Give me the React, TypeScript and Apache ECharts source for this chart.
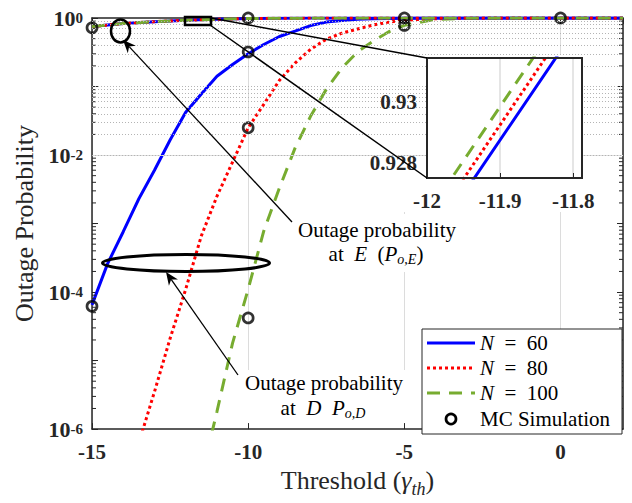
import React, { useEffect, useRef } from 'react';
import * as echarts from 'echarts';

const FONT = 'Liberation Serif, serif';
const AX = '#262626';
const BLUE = '#0000ff';
const RED = '#ff0000';
const GREEN = '#77ac30';

// Outage probability at D (lower curves)
const xD = [-15, -14.5, -14, -13.5, -13, -12.5, -12, -11.5, -11, -10.5, -10, -9.5, -9, -8.5, -8, -7.5, -7, -6.5, -6, -5.5, -5, -4, -3, -2, -1, 0, 1, 2];
const pD60 = [6.5e-5, 2.6e-4, 7.6e-4, 2.3e-3, 6.0e-3, 0.0166, 0.042, 0.078, 0.141, 0.21, 0.30, 0.41, 0.537, 0.645, 0.776, 0.871, 0.923, 0.955, 0.973, 0.984, 0.991, 0.997, 0.999, 1, 1, 1, 1, 1];
const pD80 = [null, null, 1.1e-7, 6.3e-7, 3.5e-6, 2.1e-5, 1.1e-4, 6.6e-4, 2.5e-3, 7.9e-3, 0.025, 0.055, 0.123, 0.22, 0.35, 0.49, 0.60, 0.69, 0.79, 0.87, 0.93, 0.977, 0.993, 0.998, 0.9995, 1, 1, 1];
const pD100 = [null, null, null, null, null, null, null, 2e-7, 1.8e-6, 1.8e-5, 1.1e-4, 7.8e-4, 3.3e-3, 0.0126, 0.037, 0.091, 0.186, 0.32, 0.46, 0.63, 0.78, 0.955, 0.985, 0.995, 0.998, 0.9995, 1, 1];

// Outage probability at E (upper curves)
const xE = [-15, -14, -13, -12, -11.8, -11, -10, -9, -8, -7, -6, -5, -4, -3, -2, -1, 0, 1, 2];
const pE60 = [0.75, 0.83, 0.885, 0.9252, 0.9323, 0.958, 0.98, 0.992, 0.997, 0.999, 1, 1, 1, 1, 1, 1, 1, 1, 1];
const pE80 = [0.75, 0.83, 0.885, 0.9257, 0.9328, 0.958, 0.98, 0.992, 0.997, 0.999, 1, 1, 1, 1, 1, 1, 1, 1, 1];
const pE100 = [0.752, 0.832, 0.886, 0.9263, 0.9334, 0.959, 0.981, 0.992, 0.997, 0.999, 1, 1, 1, 1, 1, 1, 1, 1, 1];

// Monte-Carlo simulation points
const mcX = [-15, -15, -10, -10, -10, -10, -5, -5, 0];
const mcY = [6.2e-5, 0.72, 1, 0.32, 0.025, 4.2e-5, 1, 0.78, 1];

const seriesNames = ['N = 60', 'N = 80', 'N = 100'];
const legendValues = ['60', '80', '100'];
const xTicksMain = { min: -15, max: 2, interval: 5 };
const yMajorGrid = [1e-4, 1e-2];
const insetYMajor = [0.928, 0.93];
const insetYMinor = [0.9285, 0.929, 0.9295, 0.9305, 0.931];

const zip = (xs: number[], ys: (number | null)[]) => xs.map((x, i) => [x, ys[i]]);

function minorLogValues() {
  const out: number[] = [];
  for (let k = -6; k < 0; k++) {
    for (let m = 2; m <= 9; m++) out.push(m * Math.pow(10, k));
    if (k % 2 !== 0) out.push(Math.pow(10, k));
  }
  return out;
}

function arrowHead(x1: number, y1: number, x2: number, y2: number, len = 13, half = 5.5, notch = 9) {
  const dx = x2 - x1, dy = y2 - y1, L = Math.hypot(dx, dy);
  const ux = dx / L, uy = dy / L, px = -uy, py = ux;
  const bx = x2 - ux * len, by = y2 - uy * len;
  return [[x2, y2], [bx + px * half, by + py * half], [x2 - ux * notch, y2 - uy * notch], [bx - px * half, by - py * half]];
}

function txt(x: number, y: number, text: string, rich: any, size = 21, z = 10) {
  return {
    type: 'text', z,
    style: {
      x, y, text, rich, fill: '#000', fontFamily: FONT, fontSize: size,
      align: 'center', verticalAlign: 'middle', textAlign: 'center', textVerticalAlign: 'middle',
    },
  };
}

export default function App() {
  const ref = useRef<HTMLDivElement>(null);
  useEffect(() => {
    if (!ref.current) return;
    const chart = echarts.init(ref.current, null, { renderer: 'svg' });
    const labelBold = { fontFamily: FONT, fontWeight: 'bold', fontSize: 21, color: AX };
    const styles = [
      { color: BLUE, width: 3, type: 'solid' },
      { color: RED, width: 3, type: [3, 3] },
      { color: GREEN, width: 3, type: [13, 9] },
    ];
    const richT = {
      r: { fontFamily: FONT, fontSize: 21, lineHeight: 24, color: '#000' },
      i: { fontFamily: FONT, fontSize: 21, lineHeight: 24, fontStyle: 'italic', color: '#000' },
      sub: { fontFamily: FONT, fontSize: 14, lineHeight: 14, padding: [10, 0, 0, 0], fontStyle: 'italic', color: '#000' },
    };
    const eArrow = arrowHead(292, 222, 123, 40);
    const dArrow = arrowHead(238, 375, 166, 272);
    const legendRows = [343, 368, 393, 419];

    const option: any = {
      animation: false,
      textStyle: { fontFamily: FONT },
      grid: [
        { left: 92, top: 18, width: 531, height: 419, show: false },
        { left: 427, top: 58, width: 155, height: 120, show: true, backgroundColor: '#fff', borderWidth: 0, z: 6 },
      ],
      xAxis: [
        {
          type: 'value', gridIndex: 0, ...xTicksMain,
          axisLine: { show: true, onZero: false, lineStyle: { color: AX, width: 1.5 } },
          axisTick: { show: true, inside: true, length: 6, lineStyle: { color: AX } },
          axisLabel: { ...labelBold, margin: 12, showMaxLabel: false, formatter: (v: number) => (v > 1 ? '' : String(v)) },
          splitLine: { show: true, lineStyle: { color: '#dcdcdc', width: 1 } },
          name: '{n|Threshold (}{g|γ}{t|th}{n|)}',
          nameLocation: 'middle', nameGap: 37,
          nameTextStyle: {
            fontFamily: FONT,
            rich: {
              n: { fontFamily: FONT, fontSize: 26, lineHeight: 28, verticalAlign: 'top', color: AX },
              g: { fontFamily: FONT, fontSize: 26, lineHeight: 28, verticalAlign: 'top', fontStyle: 'italic', color: AX },
              t: { fontFamily: FONT, fontSize: 18, lineHeight: 18, padding: [13, 0, 0, 0], verticalAlign: 'top', fontStyle: 'italic', color: AX },
            },
          },
        },
        {
          type: 'value', gridIndex: 0, position: 'top', ...xTicksMain,
          axisLine: { show: true, onZero: false, lineStyle: { color: AX, width: 1.5 } },
          axisTick: { show: true, inside: true, length: 6, lineStyle: { color: AX } },
          axisLabel: { show: false }, splitLine: { show: false },
        },
        {
          type: 'value', gridIndex: 1, min: -12, max: -11.788, interval: 0.1, z: 7,
          axisLine: { show: false },
          axisTick: { show: true, inside: true, length: 5, lineStyle: { color: AX } },
          axisLabel: { ...labelBold, margin: 12, showMaxLabel: false, formatter: (v: number) => String(Number(v.toFixed(1))) },
          splitLine: { show: true, lineStyle: { color: '#dcdcdc', width: 1.5 } },
        },
      ],
      yAxis: [
        {
          type: 'log', logBase: 10, gridIndex: 0, min: 1e-6, max: 1,
          axisLine: { show: true, onZero: false, lineStyle: { color: AX, width: 1.5 } },
          axisTick: { show: true, inside: true, length: 6, lineStyle: { color: AX } },
          splitLine: { show: false },
          axisLabel: {
            margin: 9,
            formatter: (v: number) => {
              const e = Math.round(Math.log10(v));
              if (e % 2 !== 0) return '';
              return `{b|10}{s|${e}}`;
            },
            rich: {
              b: { fontFamily: FONT, fontWeight: 'bold', fontSize: 22, lineHeight: 22, verticalAlign: 'bottom', color: AX },
              s: { fontFamily: FONT, fontWeight: 'bold', fontSize: 15, lineHeight: 15, padding: [3, 0, 12, 0], verticalAlign: 'top', color: AX },
            },
          },
          name: 'Outage Probability',
          nameLocation: 'middle', nameGap: 53,
          nameTextStyle: { fontFamily: FONT, fontSize: 26, color: AX },
        },
        {
          type: 'log', logBase: 10, gridIndex: 0, position: 'right', min: 1e-6, max: 1,
          axisLine: { show: true, onZero: false, lineStyle: { color: AX, width: 1.5 } },
          axisTick: { show: true, inside: true, length: 6, lineStyle: { color: AX } },
          axisLabel: { show: false }, splitLine: { show: false },
        },
        {
          type: 'value', gridIndex: 1, min: 0.9275, max: 0.93145, interval: 0.0005, z: 7,
          axisLine: { show: false }, axisTick: { show: false }, splitLine: { show: false },
          axisLabel: {
            ...labelBold, margin: 10,
            formatter: (v: number) => {
              const hit = insetYMajor.find((m) => Math.abs(m - v) < 1e-7);
              return hit !== undefined ? String(hit) : '';
            },
          },
        },
      ],
      series: [
        {
          type: 'line', name: 'grid', xAxisIndex: 0, yAxisIndex: 0, z: 1, silent: true,
          data: [[-20, 0.5]], symbol: 'none', lineStyle: { width: 0 },
          markLine: {
            silent: true, symbol: ['none', 'none'], label: { show: false }, animation: false,
            data: [
              ...yMajorGrid.map((v) => ({ yAxis: v, lineStyle: { color: '#dcdcdc', width: 1, type: 'solid' } })),
              ...minorLogValues().map((v) => ({ yAxis: v, lineStyle: { color: '#b4b4b4', width: 1, type: [1, 2] } })),
            ],
          },
        },
        {
          type: 'custom', name: 'minorTicks', xAxisIndex: 0, yAxisIndex: 0, z: 4, silent: true,
          data: minorLogValues().map((v) => [xTicksMain.min, v]),
          encode: { x: 0, y: 1 },
          renderItem: (_p: any, api: any) => {
            const v = api.value(1);
            const l = api.coord([xTicksMain.min, v]);
            const r = api.coord([xTicksMain.max, v]);
            const st = { stroke: AX, lineWidth: 1 };
            return {
              type: 'group',
              children: [
                { type: 'line', shape: { x1: l[0], y1: l[1], x2: l[0] + 4, y2: l[1] }, style: st },
                { type: 'line', shape: { x1: r[0] - 4, y1: r[1], x2: r[0], y2: r[1] }, style: st },
              ],
            };
          },
        },
        ...[pD60, pD80, pD100].map((d, i) => ({
          type: 'line', name: seriesNames[i], xAxisIndex: 0, yAxisIndex: 0, z: 2,
          data: zip(xD, d), symbol: 'none', lineStyle: styles[i], clip: true,
        })),
        ...[pE60, pE80, pE100].map((d, i) => ({
          type: 'line', name: seriesNames[i], xAxisIndex: 0, yAxisIndex: 0, z: 2,
          data: zip(xE, d), symbol: 'none', lineStyle: styles[i], clip: true,
        })),
        {
          type: 'scatter', name: 'MC Simulation', xAxisIndex: 0, yAxisIndex: 0, z: 3,
          data: zip(mcX, mcY), symbol: 'circle', symbolSize: 10,
          itemStyle: { color: 'rgba(0,0,0,0)', borderColor: '#000', borderWidth: 2.7 },
        },
        {
          type: 'line', name: 'insetgrid', xAxisIndex: 2, yAxisIndex: 2, z: 7, silent: true,
          data: [[-13, 0.929]], symbol: 'none', lineStyle: { width: 0 },
          markLine: {
            silent: true, symbol: ['none', 'none'], label: { show: false }, animation: false,
            data: [
              ...insetYMajor.map((v) => ({ yAxis: v, lineStyle: { color: '#dcdcdc', width: 1.5, type: 'solid' } })),
              ...insetYMinor.map((v) => ({ yAxis: v, lineStyle: { color: '#b4b4b4', width: 1.5, type: [1.5, 2.5] } })),
            ],
          },
        },
        ...[pE60, pE80, pE100].map((d, i) => ({
          type: 'line', name: seriesNames[i] + ' ', xAxisIndex: 2, yAxisIndex: 2, z: 8,
          data: zip(xE, d), symbol: 'none', lineStyle: styles[i], clip: true,
        })),
      ],
      graphic: [
        // white backgrounds
        { type: 'rect', z: 5, shape: { x: 365, y: 54, width: 223, height: 158 }, style: { fill: '#fff' } },
        { type: 'rect', z: 5, shape: { x: 293, y: 214, width: 167, height: 58 }, style: { fill: '#fff' } },
        { type: 'rect', z: 5, shape: { x: 238, y: 370, width: 167, height: 53 }, style: { fill: '#fff' } },
        // inset box border
        { type: 'rect', z: 9, shape: { x: 427, y: 58, width: 155, height: 120 }, style: { fill: 'none', stroke: AX, lineWidth: 2 } },
        // zoom rectangle and connectors
        { type: 'rect', z: 9, shape: { x: 185, y: 17, width: 26, height: 8 }, style: { fill: 'none', stroke: '#000', lineWidth: 2.5 } },
        { type: 'line', z: 9, shape: { x1: 211, y1: 18, x2: 427, y2: 58 }, style: { stroke: '#000', lineWidth: 1.5 } },
        { type: 'line', z: 9, shape: { x1: 210, y1: 25, x2: 427, y2: 178 }, style: { stroke: '#000', lineWidth: 1.5 } },
        // ellipses
        { type: 'ellipse', z: 9, shape: { cx: 120.5, cy: 31, rx: 9.5, ry: 11.5 }, style: { fill: 'none', stroke: '#000', lineWidth: 2.5 } },
        { type: 'ellipse', z: 9, shape: { cx: 186, cy: 263, rx: 83.5, ry: 8.5 }, style: { fill: 'none', stroke: '#000', lineWidth: 3 } },
        // arrows
        { type: 'line', z: 9, shape: { x1: 292, y1: 222, x2: eArrow[2][0], y2: eArrow[2][1] }, style: { stroke: '#000', lineWidth: 1.3 } },
        { type: 'polygon', z: 9, shape: { points: eArrow }, style: { fill: '#000' } },
        { type: 'line', z: 9, shape: { x1: 238, y1: 375, x2: dArrow[2][0], y2: dArrow[2][1] }, style: { stroke: '#000', lineWidth: 1.3 } },
        { type: 'polygon', z: 9, shape: { points: dArrow }, style: { fill: '#000' } },
        // annotation texts
        txt(377, 230, 'Outage probability', richT),
        txt(376, 254, '{r|at\u2002}{i|E}{r|\u2002(}{i|P}{sub|o,E}{r|)}', richT),
        txt(324, 383, 'Outage probability', richT),
        txt(323, 408, '{r|at\u2002}{i|D}{r|\u2002}{i|P}{sub|o,D}', richT),
        // legend
        { type: 'rect', z: 9, shape: { x: 422, y: 329, width: 200, height: 105 }, style: { fill: '#fff', stroke: AX, lineWidth: 1 } },
        ...styles.map((s, i) => ({
          type: 'line', z: 10, shape: { x1: 427, y1: legendRows[i], x2: 475, y2: legendRows[i] },
          style: { stroke: s.color, lineWidth: 3, lineDash: s.type === 'solid' ? null : s.type },
        })),
        { type: 'circle', z: 10, shape: { cx: 451, cy: legendRows[3], r: 5 }, style: { fill: 'none', stroke: '#000', lineWidth: 2.7 } },
        ...legendValues.map((v, i) => ({
          type: 'text', z: 10,
          style: {
            x: 480, y: legendRows[i], text: '{i|N}{r|\u2002=\u2002' + v + '}',
            rich: richT, fontFamily: FONT, fontSize: 21, fill: '#000',
            align: 'left', verticalAlign: 'middle', textAlign: 'left', textVerticalAlign: 'middle',
          },
        })),
        {
          type: 'text', z: 10,
          style: {
            x: 480, y: legendRows[3], text: 'MC Simulation', fontFamily: FONT, fontSize: 21, fill: '#000',
            align: 'left', verticalAlign: 'middle', textAlign: 'left', textVerticalAlign: 'middle',
          },
        },
      ],
    };
    chart.setOption(option);
    return () => chart.dispose();
  }, []);
  return <div ref={ref} style={{ position: 'fixed', left: 0, top: 0, width: 632, height: 503, background: '#fff' }} />;
}
